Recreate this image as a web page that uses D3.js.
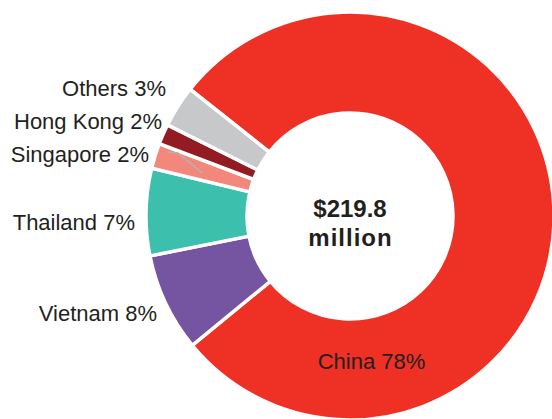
<!DOCTYPE html>
<html>
<head>
<meta charset="utf-8">
<script src="https://cdn.jsdelivr.net/npm/d3@7"></script>
<style>
  html, body { margin: 0; padding: 0; background: #fff; }
  svg { display: block; }
  text { font-family: "Liberation Sans", Arial, Helvetica, sans-serif; fill: #231f20; }
</style>
</head>
<body>
<svg id="chart" width="552" height="419"></svg>
<script>
// Export destinations and their share of the total (percent)
const categories = ["China", "Vietnam", "Thailand", "Singapore", "Hong Kong", "Others"];
const shares = [78.4, 7.8, 6.9, 2.0, 1.6, 3.3];
const sliceColors = ["#ee3124", "#7554a1", "#3dbfad", "#f3877b", "#921c21", "#c7c8ca"];
const totalLines = ["$219.8", "million"];

// Layout
const width = 552, height = 419;
const cx = 350, cy = 216;
const outerR = 204, innerR = 103;
const startDeg = -51.6;

// Label anchor points (text-anchor: end for the small slices on the left)
const labelAnchors = {
  "Others":    { x: 166, y: 96,  anchor: "end" },
  "Hong Kong": { x: 162, y: 129, anchor: "end" },
  "Singapore": { x: 149, y: 162, anchor: "end" },
  "Thailand":  { x: 135, y: 230, anchor: "end" },
  "Vietnam":   { x: 157, y: 321, anchor: "end" },
  "China":     { x: 371.5, y: 369, anchor: "middle" }
};

const data = categories.map((c, i) => ({ name: c, value: shares[i], color: sliceColors[i] }));

const svg = d3.select("#chart");
const g = svg.append("g").attr("transform", `translate(${cx},${cy})`);

const start = startDeg * Math.PI / 180;
const pie = d3.pie()
  .sort(null)
  .value(d => d.value)
  .startAngle(start)
  .endAngle(start + 2 * Math.PI);

const arc = d3.arc().innerRadius(innerR).outerRadius(outerR);

const arcs = pie(data);

g.selectAll("path.slice")
  .data(arcs)
  .join("path")
  .attr("class", "slice")
  .attr("d", arc)
  .attr("fill", d => d.data.color)
  .attr("stroke", "#fff")
  .attr("stroke-width", 3.5)
  .attr("stroke-linejoin", "miter");

// Leader line for the Singapore label, ending inside its slice
const sg = arcs.find(d => d.data.name === "Singapore");
const sgMid = (sg.startAngle + sg.endAngle) / 2 - 0.015;
const leaderR = outerR - 50;
const sgPt = [leaderR * Math.sin(sgMid), -leaderR * Math.cos(sgMid)];
svg.append("path")
  .attr("d", d3.line()([[167, 152], [178, 153], [cx + sgPt[0], cy + sgPt[1]]]))
  .attr("fill", "none")
  .attr("stroke", "#b3b3b3")
  .attr("stroke-width", 1.6);

// Category labels
svg.selectAll("text.label")
  .data(arcs)
  .join("text")
  .attr("class", "label")
  .attr("x", d => labelAnchors[d.data.name].x)
  .attr("y", d => labelAnchors[d.data.name].y)
  .attr("text-anchor", d => labelAnchors[d.data.name].anchor)
  .attr("font-size", 22)
  .text(d => `${d.data.name} ${Math.round(d.data.value)}%`);

// Total in the hole
svg.append("text")
  .attr("x", cx)
  .attr("y", 217)
  .attr("text-anchor", "middle")
  .attr("font-size", 24)
  .attr("font-weight", "bold")
  .text(totalLines[0]);

svg.append("text")
  .attr("x", cx + 0.5)
  .attr("y", 246)
  .attr("text-anchor", "middle")
  .attr("font-size", 24)
  .attr("font-weight", "bold")
  .attr("letter-spacing", 1)
  .text(totalLines[1]);
</script>
</body>
</html>
